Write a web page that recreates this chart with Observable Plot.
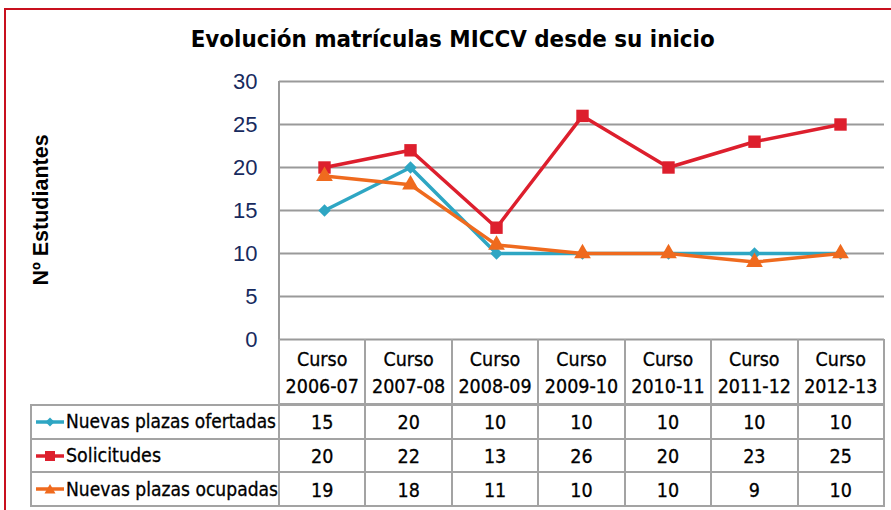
<!DOCTYPE html>
<html>
<head>
<meta charset="utf-8">
<script src="https://cdn.jsdelivr.net/npm/d3@7"></script>
<script src="https://cdn.jsdelivr.net/npm/@observablehq/plot@0.6"></script>
<style>
  html, body { margin: 0; padding: 0; background: #fff; }
  body { width: 891px; height: 510px; overflow: hidden; position: relative; }
  #frame { position: absolute; left: 4px; top: 8px; width: 1000px; height: 1000px; border: 2px solid #c8101e; box-sizing: border-box; }
  #chart { position: absolute; left: 0; top: 0; }
  #title { position: absolute; top: 26px; left: 0; width: 906px; text-align: center;
           font-family: "DejaVu Sans Condensed", "DejaVu Sans", sans-serif; font-weight: bold; font-size: 23px; color: #000; white-space: nowrap; }
  #title span { display: inline-block; transform-origin: center; }
  #ylabel { position: absolute; left: 41px; top: 210px; transform: translate(-50%, -50%) rotate(-90deg);
            font-family: "Liberation Sans", Arial, sans-serif; font-weight: bold; font-size: 21.5px; white-space: nowrap; color: #000; }
  #table { position: absolute; font-family: "DejaVu Sans Condensed", "DejaVu Sans", sans-serif; font-size: 19.5px; color: #000; -webkit-text-stroke: 0.3px #000; }
  .cell { position: absolute; box-sizing: border-box; display: flex; align-items: center; justify-content: center; text-align: center; line-height: 27px; white-space: nowrap; }
  .lab { justify-content: flex-start; }
  .lab span.t { display: inline-block; transform-origin: left center; }
</style>
</head>
<body>
<div id="frame"></div>
<div id="chart"></div>
<div id="title"><span>Evolución matrículas MICCV desde su inicio</span></div>
<div id="ylabel"><span>Nº Estudiantes</span></div>
<div id="table"></div>
<script>
// ---- data ----
const categories = ["2006-07", "2007-08", "2008-09", "2009-10", "2010-11", "2011-12", "2012-13"];
const categoryPrefix = "Curso";
const seriesNames = ["Nuevas plazas ofertadas", "Solicitudes", "Nuevas plazas ocupadas"];
const ofertadas = [15, 20, 10, 10, 10, 10, 10];
const solicitudes = [20, 22, 13, 26, 20, 23, 25];
const ocupadas = [19, 18, 11, 10, 10, 9, 10];
const yTicks = [0, 5, 10, 15, 20, 25, 30];

// ---- styles ----
const colors = ["#2ea6c3", "#dd1f2d", "#ef6a1e"];
const symbols = ["diamond2", "square", "triangle"];
const radii = [5.6, 7, 6.2];
const valuesBySeries = [ofertadas, solicitudes, ocupadas];

const rows = [];
valuesBySeries.forEach((vals, s) => vals.forEach((v, i) => rows.push({series: seriesNames[s], cat: categories[i], value: v})));

const W = 891, H = 510;
const marks = [
  Plot.gridY(yTicks, {stroke: "#9a9a9a", strokeOpacity: 1, strokeWidth: 2}),
  Plot.axisY({ticks: yTicks, tickSize: 0, tickPadding: 22, fontSize: 22, fill: "#172a5e", label: null,
               fontFamily: "Liberation Sans, Arial, sans-serif", stroke: "#172a5e", strokeWidth: 0.4}),
  // left border of plot area
  (index, scales, values, dim) => {
    const g = d3.create("svg:line")
      .attr("x1", dim.marginLeft).attr("x2", dim.marginLeft)
      .attr("y1", dim.marginTop).attr("y2", dim.height - dim.marginBottom)
      .attr("stroke", "#9a9a9a").attr("stroke-width", 2);
    return g.node();
  }
];
seriesNames.forEach((name, s) => {
  const data = rows.filter(d => d.series === name);
  marks.push(Plot.line(data, {x: "cat", y: "value", stroke: colors[s], strokeWidth: 3.5}));
  marks.push(Plot.dot(data, {x: "cat", y: "value", fill: colors[s], symbol: symbols[s], r: radii[s], stroke: null}));
});

const plot = Plot.plot({
  width: W, height: H,
  marginTop: 81, marginBottom: H - 339, marginLeft: 279, marginRight: 7,
  style: {background: "transparent", overflow: "visible"},
  x: {type: "point", domain: categories, padding: 0.5, axis: null},
  y: {domain: [0, 30], axis: null},
  marks
});
document.getElementById("chart").appendChild(plot);

// ---- data table aligned to the x scale ----
const xs = plot.scale("x");
const r0 = xs.range[0], r1 = xs.range[1];
const step = (r1 - r0) / categories.length;
const yb = plot.scale("y").range[0]; // pixel of zero line
const table = document.getElementById("table");
const headerH = 65, rowH = 33.7, labelLeft = 31;
const border = "2px solid #a3a3a3";
function cell(x, y, w, h, html, cls, css) {
  const d = document.createElement("div");
  d.className = "cell " + (cls || "");
  Object.assign(d.style, {left: x + "px", top: y + "px", width: w + "px", height: h + "px"}, css || {});
  d.innerHTML = html;
  table.appendChild(d);
  return d;
}
categories.forEach((c, i) => {
  cell(r0 + i * step - 1, yb, step + 2, headerH + 1, categoryPrefix + "<br>" + c, "",
       {borderLeft: border, borderRight: border, borderBottom: border, lineHeight: "27px", paddingTop: "3px"});
});
seriesNames.forEach((name, s) => {
  const y = yb + headerH + s * rowH;
  const sw = `<svg width="30" height="16" style="margin-left:3px;margin-right:1px;flex:none"><line x1="1" x2="29" y1="8" y2="8" stroke="${colors[s]}" stroke-width="3.5"/>` +
    (s === 0 ? `<path d="M15,3.5 L19.5,8 L15,12.5 L10.5,8Z" fill="${colors[s]}"/>` :
     s === 1 ? `<rect x="10" y="3" width="10" height="10" fill="${colors[s]}"/>` :
               `<path d="M15,3 L20.5,12.5 L9.5,12.5Z" fill="${colors[s]}"/>`) + `</svg>`;
  cell(labelLeft - 1, y, r0 - labelLeft + 2, rowH + 2, sw + `<span class="t">${name}</span>`, "lab", {border: border});
  valuesBySeries[s].forEach((v, i) => {
    cell(r0 + i * step - 1, y, step + 2, rowH + 2, String(v), "", {border: border, paddingTop: "2px"});
  });
});
// fit condensed label widths to the reference's Calibri metrics
const targetWidths = {"Nuevas plazas ofertadas": 210, "Solicitudes": 95, "Nuevas plazas ocupadas": 212};
document.querySelectorAll(".lab span.t").forEach(sp => {
  const w = sp.getBoundingClientRect().width;
  const tw = targetWidths[sp.textContent];
  if (w && tw) sp.style.transform = `scaleX(${tw / w})`;
});
const ts = document.querySelector("#title span");
const tw0 = ts.getBoundingClientRect().width;
if (tw0) ts.style.transform = `scaleX(${524 / tw0})`;
</script>
</body>
</html>
